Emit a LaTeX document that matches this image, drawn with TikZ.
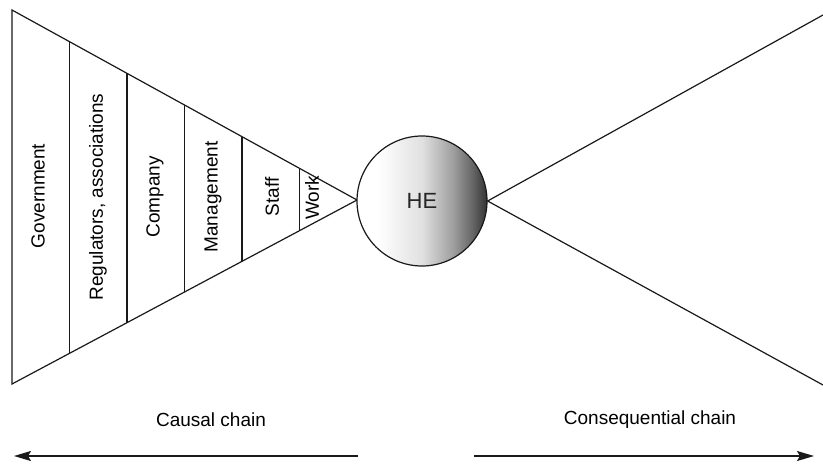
\documentclass[tikz,border=0pt]{standalone}
\usepackage{fontspec}
\setmainfont{Liberation Sans}
\usetikzlibrary{calc,arrows.meta}

% horizontal shading for the central sphere: white on the left, dark on the right
\pgfdeclarehorizontalshading{heshade}{100bp}{%
  color(0bp)=(white); color(25bp)=(white); color(33bp)=(white);
  color(50bp)=(black!12); color(62bp)=(black!38); color(70bp)=(black!62);
  color(75bp)=(black!80); color(100bp)=(black!80)}

\begin{document}
\begin{tikzpicture}[x=1pt,y=-1pt,
    edge/.style={line width=1.2pt, black!90},
    divider/.style={line width=1.2pt, black!90},
    layer/.style={rotate=90, inner sep=0pt, font=\fontsize{19}{22}\selectfont, text=black},
    caption/.style={inner sep=0pt, font=\fontsize{19}{22}\selectfont, text=black},
    chainarrow/.style={line width=1.5pt, black!90, -{Stealth[length=17pt,width=10pt,inset=3pt]}}]

  \useasboundingbox (0,0) rectangle (823,464);

  % causal wedge
  \coordinate (tl) at (12,10);
  \coordinate (bl) at (12,384);
  \coordinate (apex) at (357,200);
  \draw[edge, line join=miter] (apex) -- (tl) -- (bl) -- cycle;

  % layer dividers at sixths of the wedge
  \foreach \k/\name in {1/d1,2/d2,3/d3,4/d4,5/d5} {
    \coordinate (\name t) at ($(tl)!{\k/6}!(apex)$);
    \coordinate (\name b) at ($(bl)!{\k/6}!(apex)$);
    \draw[divider] (\name t) -- (\name b);
  }

  % layer labels
  \node[layer] (gov)  at (38,196)  {Government};
  \node[layer] (reg)  at (98,197)  {Regulators, associations};
  \node[layer] (comp) at (155,197) {Company};
  \node[layer] (man)  at (213,197) {Management};
  \node[layer] (staff) at (272,197) {Staff};
  \node[layer] (work) at (312,198) {Work};

  % human error sphere
  \node[circle, minimum size=130pt, inner sep=0pt, draw=black!90, line width=1.2pt,
        shading=heshade, font=\fontsize{22}{26}\selectfont, text=black!85]
        (he) at (422,201) {HE};

  % consequential wedge, running off the right edge
  \coordinate (tr) at (823,15);
  \coordinate (br) at (823,385);
  \draw[edge] (tr) -- (he.east) -- (br);

  % chain captions
  \node[caption] (causal) at (211,420) {Causal chain};
  \node[caption] (conseq) at (650,420) {Consequential chain};

  % direction arrows
  \coordinate (ca0) at (358,456);
  \coordinate (ca1) at (14,456);
  \coordinate (qa0) at (474,456);
  \coordinate (qa1) at (814,456);
  \draw[chainarrow] (ca0) -- (ca1);
  \draw[chainarrow] (qa0) -- (qa1);
\end{tikzpicture}
\end{document}
